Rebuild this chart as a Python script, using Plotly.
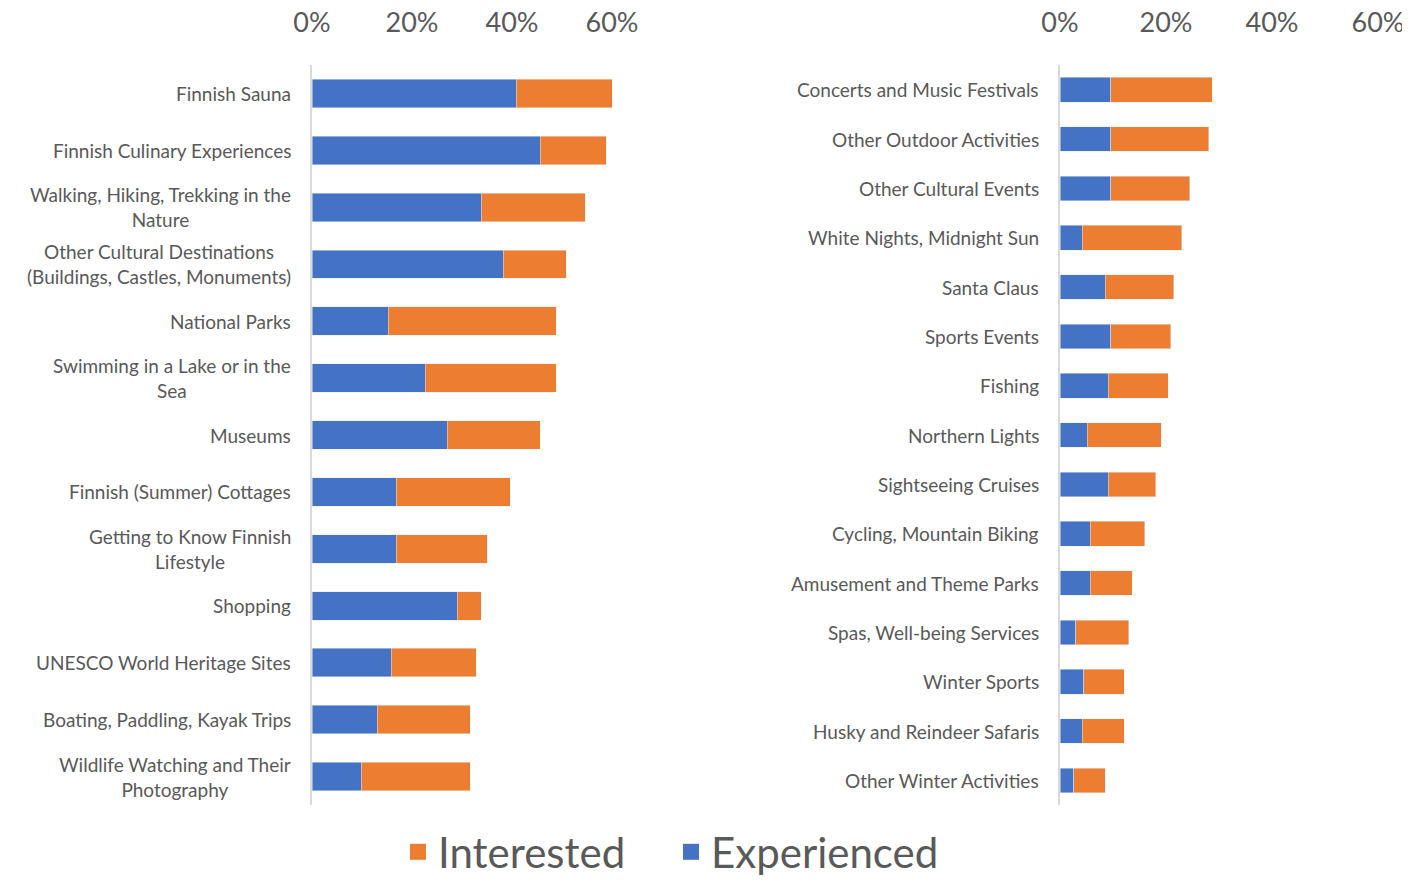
import plotly.graph_objects as go

left_categories = [
    "Finnish Sauna",
    "Finnish Culinary Experiences",
    "Walking, Hiking, Trekking in the<br>Nature",
    "Other Cultural Destinations<br>(Buildings, Castles, Monuments)",
    "National Parks",
    "Swimming in a Lake or in the<br>Sea",
    "Museums",
    "Finnish (Summer) Cottages",
    "Getting to Know Finnish<br>Lifestyle",
    "Shopping",
    "UNESCO World Heritage Sites",
    "Boating, Paddling, Kayak Trips",
    "Wildlife Watching and Their<br>Photography",
]
left_experienced = [0.408, 0.456, 0.338, 0.382, 0.152, 0.226, 0.270, 0.168, 0.168, 0.290, 0.158, 0.130, 0.098]
left_interested = [0.192, 0.132, 0.208, 0.126, 0.336, 0.262, 0.186, 0.228, 0.182, 0.048, 0.170, 0.186, 0.218]

right_categories = [
    "Concerts and Music Festivals",
    "Other Outdoor Activities",
    "Other Cultural Events",
    "White Nights, Midnight Sun",
    "Santa Claus",
    "Sports Events",
    "Fishing",
    "Northern Lights",
    "Sightseeing Cruises",
    "Cycling, Mountain Biking",
    "Amusement and Theme Parks",
    "Spas, Well-being Services",
    "Winter Sports",
    "Husky and Reindeer Safaris",
    "Other Winter Activities",
]
right_experienced = [0.096, 0.096, 0.096, 0.042, 0.085, 0.096, 0.091, 0.051, 0.091, 0.057, 0.057, 0.030, 0.045, 0.042, 0.026]
right_interested = [0.191, 0.185, 0.149, 0.188, 0.130, 0.113, 0.113, 0.140, 0.090, 0.103, 0.079, 0.100, 0.076, 0.079, 0.059]

tick_vals = [0, 0.2, 0.4, 0.6]
tick_text = ["0%", "20%", "40%", "60%"]

BLUE = "#4472C4"
ORANGE = "#ED7D31"
TXT = "#595959"
FONT = "Lato"
OFF = 8  # page body margin
W, H = 1410 - OFF, 886 - OFF


def px(x):
    return (x - OFF) / W


def py(y):
    return 1 - (y - OFF) / H


fig = go.Figure()
fig.add_trace(go.Bar(y=left_categories, x=left_experienced, orientation="h", marker_color=BLUE,
                     name="Experienced", showlegend=False, xaxis="x", yaxis="y"))
fig.add_trace(go.Bar(y=left_categories, x=left_interested, orientation="h", marker_color=ORANGE,
                     name="Interested", showlegend=False, xaxis="x", yaxis="y"))
fig.add_trace(go.Bar(y=right_categories, x=right_experienced, orientation="h", marker_color=BLUE,
                     name="Experienced", showlegend=False, xaxis="x2", yaxis="y2"))
fig.add_trace(go.Bar(y=right_categories, x=right_interested, orientation="h", marker_color=ORANGE,
                     name="Interested", showlegend=False, xaxis="x2", yaxis="y2"))
# legend entries
fig.add_trace(go.Scatter(x=[None], y=[None], mode="markers", name="Interested",
                         marker=dict(symbol="square", size=22, color=ORANGE), legendrank=1,
                         xaxis="x", yaxis="y"))
fig.add_trace(go.Scatter(x=[None], y=[None], mode="markers", name="Experienced",
                         marker=dict(symbol="square", size=22, color=BLUE), legendrank=2,
                         xaxis="x", yaxis="y"))

ydom = [py(805), py(65)]
xcommon = dict(side="top", tickvals=tick_vals, ticktext=tick_text, showgrid=False, zeroline=False,
               ticks="", tickfont=dict(size=27, color=TXT, family=FONT), ticklabelstandoff=27,
               showline=False, fixedrange=True, automargin=False)
fig.update_layout(
    xaxis=dict(domain=[px(312), px(637)], range=[0, 0.65], anchor="y", **xcommon),
    xaxis2=dict(domain=[px(1060), 1.0], range=[0, (1410 - 1060) / 530], anchor="y2", **xcommon),
    yaxis=dict(domain=ydom, type="category", autorange="reversed", showticklabels=False,
               showline=True, linecolor="#D9D9D9", linewidth=2, ticks="", anchor="x", automargin=False),
    yaxis2=dict(domain=ydom, type="category", autorange="reversed", showticklabels=False,
                showline=True, linecolor="#D9D9D9", linewidth=2, ticks="", anchor="x2", automargin=False),
)

annotations = []
for cat in left_categories:
    annotations.append(dict(x=px(293), xref="paper", xanchor="right", y=cat, yref="y",
                            text=cat, showarrow=False, align="center",
                            font=dict(size=19, color=TXT, family=FONT)))
for cat in right_categories:
    annotations.append(dict(x=px(1041), xref="paper", xanchor="right", y=cat, yref="y2",
                            text=cat, showarrow=False, align="center",
                            font=dict(size=19, color=TXT, family=FONT)))

fig.update_layout(
    annotations=annotations,
    barmode="stack",
    bargap=0.5,
    width=W, height=H,
    margin=dict(l=0, r=0, t=0, b=0),
    paper_bgcolor="white", plot_bgcolor="white",
    showlegend=True,
    legend=dict(orientation="h", x=px(671), xanchor="center", y=0, yanchor="bottom",
                font=dict(size=42, color=TXT, family=FONT), itemsizing="trace",
                entrywidth=228, entrywidthmode="pixels",
                traceorder="normal"),
)

fig.write_html("out.html")
